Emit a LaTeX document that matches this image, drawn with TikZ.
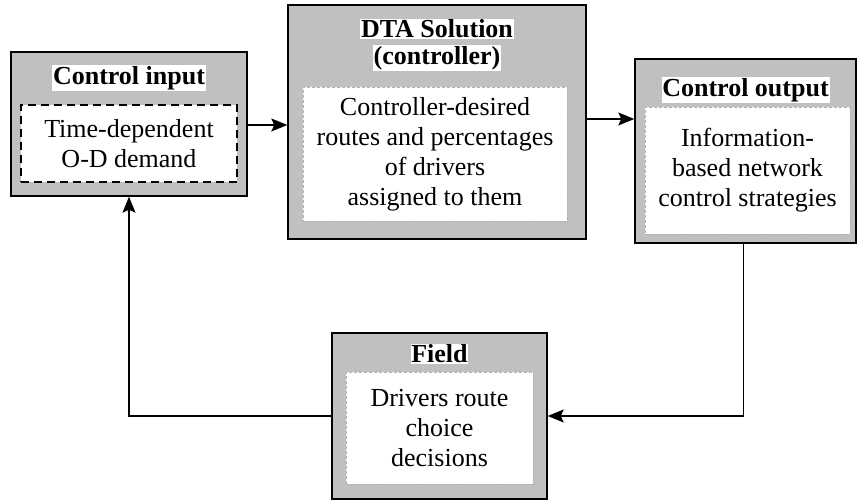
\documentclass[tikz,border=0pt]{standalone}
\usepackage{fontspec}
\setmainfont{Liberation Serif}
\usetikzlibrary{arrows.meta}
\definecolor{boxgray}{RGB}{192,192,192}
\tikzset{
  outerbox/.style={draw=black, fill=boxgray, line width=1.4pt, inner sep=0pt},
  innerbox/.style={draw=gray!60, fill=white, line width=0.6pt, densely dashed, inner sep=0pt, align=center,
    font=\fontsize{26}{30}\selectfont},
  dashbox/.style={draw=black, fill=white, line width=1.3pt, dash pattern=on 8pt off 5pt, inner sep=0pt, align=center,
    font=\fontsize{26}{30}\selectfont},
  titletext/.style={fill=white, inner sep=0.8pt, font=\fontsize{26}{30}\selectfont\bfseries},
  arr/.style={line width=1.1pt, -{Stealth[length=16pt,width=13pt,inset=3pt]}}
}
\begin{document}
\begin{tikzpicture}[x=1pt,y=-1pt]
\useasboundingbox (0,0) rectangle (857,502);
% Control input
\node[outerbox, minimum width=236pt, minimum height=144pt] (ci) at (129,124) {};
\node[titletext] (cit) at (129,78) {Control input};
\node[dashbox, minimum width=216pt, minimum height=77pt] (cii) at (129,143.5) {Time-dependent\\O-D demand};
% DTA
\node[outerbox, minimum width=298pt, minimum height=234pt] (dta) at (437,122) {};
\node[titletext] (dtat1) at (437,29) {DTA Solution};
\node[titletext] (dtat2) at (437,58) {(controller)};
\node[innerbox, minimum width=264pt, minimum height=134pt] (dtai) at (435,154) {Controller-desired\\routes and percentages\\of drivers\\assigned to them};
% Control output
\node[outerbox, minimum width=221pt, minimum height=184pt] (co) at (745.5,151) {};
\node[titletext] (cot) at (745.5,90) {Control output};
\node[innerbox, minimum width=205pt, minimum height=127pt] (coi) at (747.5,170.5) {Information-\\based network\\control strategies};
% Field
\node[outerbox, minimum width=215pt, minimum height=166pt] (fld) at (439.5,416) {};
\node[titletext] (fldt) at (439.5,354) {Field};
\node[innerbox, minimum width=187pt, minimum height=112pt] (fldi) at (439.5,428) {Drivers route\\choice\\decisions};
% connectors
\draw[arr] ([yshift=-1pt]ci.east) -- ([yshift=-1pt]ci.east -| dta.west);
\draw[arr] ([yshift=3pt]dta.east) -- ([yshift=3pt]dta.east -| co.west);
\draw[arr] ([xshift=-2pt]co.south) |- (fld.east);
\draw[arr] (fld.west) -| (ci.south);
\end{tikzpicture}
\end{document}
